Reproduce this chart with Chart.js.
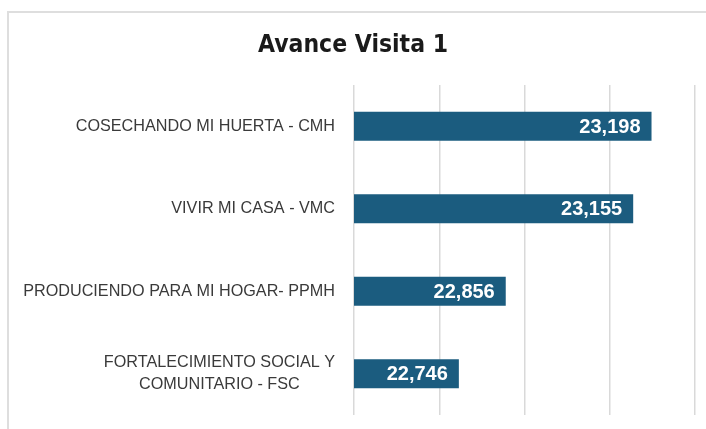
<!DOCTYPE html>
<html>
<head>
<meta charset="utf-8">
<script src="https://cdn.jsdelivr.net/npm/chart.js@4"></script>
<style>
  html, body { margin: 0; padding: 0; background: #ffffff; }
  #wrap { position: relative; width: 706px; height: 429px; }
  canvas { display: block; }
</style>
</head>
<body>
<div id="wrap"><canvas id="c" width="706" height="429"></canvas></div>
<script>
const chartTitle = "Avance Visita 1";
const categories = [
  ["COSECHANDO MI HUERTA - CMH"],
  ["VIVIR MI CASA - VMC"],
  ["PRODUCIENDO PARA MI HOGAR- PPMH"],
  ["FORTALECIMIENTO SOCIAL Y", "COMUNITARIO - FSC"]
];
const values = [23198, 23155, 22856, 22746];
const axisMin = 22500;
const axisMax = 23300;
const axisStep = 200;

const barColor = "#1b5c7f";
const labelFont = "16.2px 'Liberation Sans', Arial, sans-serif";
const valueFont = "bold 20px 'Liberation Sans', Arial, sans-serif";
const titleFont = "bold 25px 'Liberation Sans Narrow', 'DejaVu Sans Condensed', 'Liberation Sans', sans-serif";

const fmt = new Intl.NumberFormat('en-US');

const decorPlugin = {
  id: 'decor',
  beforeDraw(chart) {
    const ctx = chart.ctx;
    ctx.save();
    ctx.strokeStyle = '#dedede';
    ctx.lineWidth = 2;
    ctx.beginPath();
    ctx.moveTo(8, 440);
    ctx.lineTo(8, 12);
    ctx.lineTo(720, 12);
    ctx.stroke();
    ctx.restore();
  },
  afterDraw(chart) {
    const ctx = chart.ctx;
    const area = chart.chartArea;
    const yScale = chart.scales.y;
    ctx.save();
    // title
    ctx.font = titleFont;
    ctx.fillStyle = '#1a1a1a';
    ctx.textAlign = 'center';
    ctx.textBaseline = 'middle';
    ctx.fillText(chartTitle, chart.width / 2, 45, 190);
    // category labels
    ctx.font = labelFont;
    ctx.fillStyle = '#3a3a3a';
    const rightEdge = area.left - 19;
    const lineH = 22;
    categories.forEach((lines, i) => {
      const cy = yScale.getPixelForValue(i);
      const maxW = Math.max(...lines.map(l => ctx.measureText(l).width));
      const cx = rightEdge - maxW / 2;
      ctx.textAlign = 'center';
      lines.forEach((l, j) => {
        const y = cy + (j - (lines.length - 1) / 2) * lineH;
        ctx.fillText(l, cx, y);
      });
    });
    // value labels
    ctx.font = valueFont;
    ctx.fillStyle = '#ffffff';
    ctx.textAlign = 'right';
    const meta = chart.getDatasetMeta(0);
    meta.data.forEach((bar, i) => {
      ctx.fillText(fmt.format(values[i]), bar.x - 11, bar.y + 1);
    });
    ctx.restore();
  }
};

new Chart(document.getElementById('c'), {
  type: 'bar',
  data: {
    labels: categories,
    datasets: [{
      data: values,
      backgroundColor: barColor,
      borderWidth: 0,
      categoryPercentage: 1,
      barPercentage: 0.352
    }]
  },
  options: {
    indexAxis: 'y',
    responsive: false,
    animation: false,
    layout: { padding: { left: 354, right: 11, top: 85, bottom: 14 } },
    plugins: {
      legend: { display: false },
      title: { display: false },
      tooltip: { enabled: false }
    },
    scales: {
      x: {
        min: axisMin,
        max: axisMax,
        ticks: { display: false, stepSize: axisStep },
        grid: { color: '#d9d9d9', lineWidth: 1.5, drawTicks: false },
        border: { display: false }
      },
      y: {
        display: false
      }
    }
  },
  plugins: [decorPlugin]
});
</script>
</body>
</html>
